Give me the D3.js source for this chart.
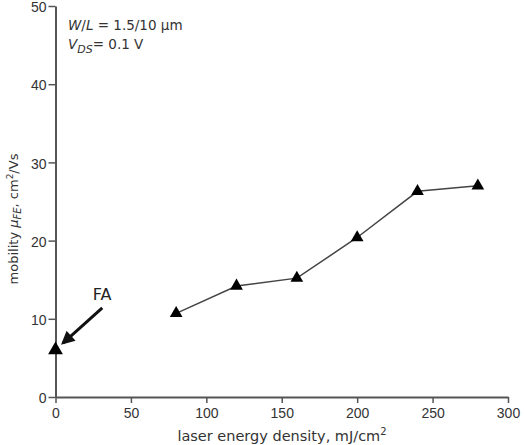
<!DOCTYPE html>
<html>
<head>
<meta charset="utf-8">
<script src="https://cdn.jsdelivr.net/npm/d3@7"></script>
<style>
  body { margin: 0; background: #fff; }
  svg { display: block; font-family: "DejaVu Sans", sans-serif; }
</style>
</head>
<body>
<div id="chart"></div>
<script>
// --- data ---
const energy = [80, 120, 160, 200, 240, 280];
const mobility = [10.7, 14.2, 15.2, 20.4, 26.3, 27.0];
const faEnergy = [0];
const faMobility = [6.0];
const xTicks = [0, 50, 100, 150, 200, 250, 300];
const yTicks = [0, 10, 20, 30, 40, 50];

const W = 524, H = 445;
const axisColor = "#555";
const textColor = "#333";

const svg = d3.select("#chart").append("svg")
    .attr("width", W).attr("height", H);

const x = d3.scaleLinear().domain([0, 300]).range([55.5, 508]);
const y = d3.scaleLinear().domain([0, 50]).range([397, 6]);

// axes
const gx = svg.append("g").attr("transform", `translate(0,${y(0)})`)
    .call(d3.axisBottom(x).tickValues(xTicks).tickSize(6).tickSizeOuter(0).tickPadding(5));
const gy = svg.append("g").attr("transform", `translate(${x(0)},0)`)
    .call(d3.axisLeft(y).tickValues(yTicks).tickSize(7).tickSizeOuter(0).tickPadding(2));

[gx, gy].forEach(g => {
    g.select(".domain").attr("stroke", axisColor).attr("stroke-width", 2);
    g.selectAll(".tick line").attr("stroke", axisColor).attr("stroke-width", 1.5);
    g.selectAll(".tick text").attr("fill", textColor).style("font-size", "14px");
});
gy.selectAll(".tick text").attr("dy", "0.4em");

// axis titles
svg.append("text")
    .attr("x", 282).attr("y", 441)
    .attr("text-anchor", "middle")
    .attr("fill", textColor)
    .style("font-size", "14.5px")
    .html('laser energy density, mJ/cm<tspan dy="-6" font-size="10px">2</tspan>');

svg.append("text")
    .attr("transform", "translate(18,219) rotate(-90)")
    .attr("text-anchor", "middle")
    .attr("fill", textColor)
    .style("font-size", "13px")
    .html('mobility <tspan font-style="italic">μ</tspan><tspan dy="3" font-size="10px" font-style="italic">FE</tspan><tspan dy="-3">, cm</tspan><tspan dy="-5" font-size="9px">2</tspan><tspan dy="5">/Vs</tspan>');

// annotation
svg.append("text")
    .attr("x", 68).attr("y", 30)
    .attr("fill", textColor)
    .style("font-size", "13.5px")
    .html('<tspan font-style="italic">W</tspan>/<tspan font-style="italic">L</tspan> = 1.5/10 μm');
svg.append("text")
    .attr("x", 68).attr("y", 49)
    .attr("fill", textColor)
    .style("font-size", "13.5px")
    .html('<tspan font-style="italic">V</tspan><tspan dy="4" font-size="11px" font-style="italic">DS</tspan><tspan dy="-4">= 0.1 V</tspan>');

// data line
const pts = energy.map((e, i) => ({ e, m: mobility[i] }));
svg.append("path")
    .datum(pts)
    .attr("fill", "none")
    .attr("stroke", "#444")
    .attr("stroke-width", 1.5)
    .attr("d", d3.line().x(d => x(d.e)).y(d => y(d.m)));

const tri = d3.symbol().type(d3.symbolTriangle).size(70);
svg.selectAll(".pt").data(pts).join("path")
    .attr("class", "pt")
    .attr("transform", d => `translate(${x(d.e)},${y(d.m)})`)
    .attr("d", tri)
    .attr("fill", "#000");

// FA point
const faPts = faEnergy.map((e, i) => ({ e, m: faMobility[i] }));
svg.selectAll(".fa").data(faPts).join("path")
    .attr("class", "fa")
    .attr("transform", d => `translate(${x(d.e)},${y(d.m)})`)
    .attr("d", d3.symbol().type(d3.symbolTriangle).size(95))
    .attr("fill", "#000");

// FA arrow
svg.append("defs").append("marker")
    .attr("id", "head")
    .attr("viewBox", "0 0 10 10")
    .attr("refX", 8).attr("refY", 5)
    .attr("markerWidth", 5).attr("markerHeight", 4.5)
    .attr("orient", "auto")
    .append("path").attr("d", "M0,0L10,5L0,10z").attr("fill", "#111");

svg.append("line")
    .attr("x1", x(31)).attr("y1", y(11.4))
    .attr("x2", x(5)).attr("y2", y(6.9))
    .attr("stroke", "#111").attr("stroke-width", 3)
    .attr("marker-end", "url(#head)");

svg.append("text")
    .attr("x", 102).attr("y", 300)
    .attr("text-anchor", "middle")
    .attr("fill", "#222")
    .style("font-size", "16px")
    .text("FA");
</script>
</body>
</html>
